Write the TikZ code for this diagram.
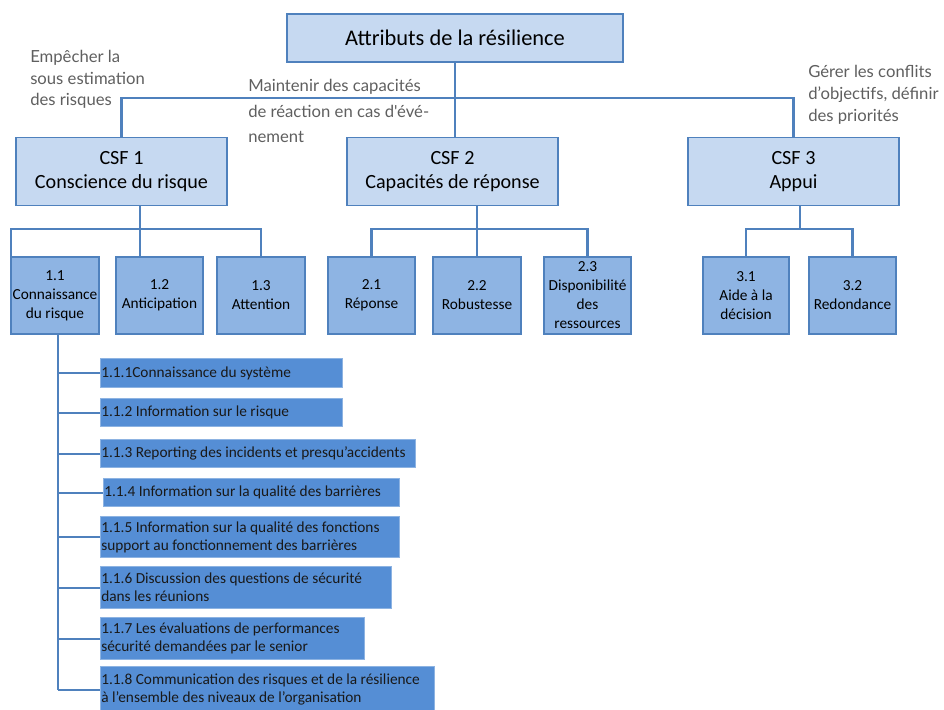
\documentclass[tikz,border=0pt]{standalone}
\usepackage{fontspec}
\setmainfont{Carlito}
\newfontfamily\annotfont{Lato}
\newdimen\px \px=0.75pt
\definecolor{lineblue}{HTML}{4F81BD}
\definecolor{paleblue}{HTML}{C6D9F1}
\definecolor{midblue}{HTML}{8EB4E3}
\definecolor{deepblue}{HTML}{558ED5}
\definecolor{subedge}{HTML}{8DB3E2}
\definecolor{notegray}{HTML}{5F5F5F}
\tikzset{
  conn/.style={draw=lineblue, line width=1.6pt},
  headbox/.style={draw=lineblue, line width=1.4pt, fill=paleblue, inner sep=0pt,
    align=center, font=\fontsize{16.8}{20}\selectfont},
  csfbox/.style={draw=lineblue, line width=1.4pt, fill=paleblue, inner sep=0pt,
    minimum width=211\px, minimum height=68\px, align=center,
    font=\fontsize{15.1}{18}\selectfont},
  attrbox/.style={draw=lineblue, line width=1.3pt, fill=midblue, inner sep=0pt,
    minimum width=87\px, minimum height=77\px, align=center,
    font=\fontsize{11.5}{14.25}\selectfont},
  subbox/.style={draw=subedge, line width=1pt, fill=deepblue, inner sep=0pt,
    anchor=north west},
  subtext/.style={anchor=west, inner sep=0pt, align=left, text=black!90,
    font=\fontsize{11.5}{13.5}\selectfont},
  note/.style={anchor=base west, inner sep=0pt, align=left, text=notegray},
}
\begin{document}
\begin{tikzpicture}[x=1\px, y=-1\px]
\useasboundingbox (0,0) rectangle (944,709);

% root
\node[headbox, minimum width=336\px, minimum height=48\px] (top) at (455,38) {Attributs de la résilience};

% critical success factors
\node[csfbox] (csf1) at (121.5,171.5) {CSF 1\\Conscience du risque};
\node[csfbox] (csf2) at (452.5,171.5) {CSF 2\\Capacités de réponse};
\node[csfbox] (csf3) at (793.5,171.5) {CSF 3\\Appui};

% annotations (anchored on the baseline of their last line)
\node[note, font=\annotfont\fontsize{12.5}{16.2}\selectfont] (n1) at (30,106)
  {Empêcher la\\sous estimation\\des risques};
\node[note, font=\annotfont\fontsize{12.5}{19.2}\selectfont] (n2) at (248,143)
  {Maintenir des capacités\\de réaction en cas d'évé-\\nement};
\node[note, font=\annotfont\fontsize{12.5}{16.5}\selectfont] (n3) at (808,122)
  {Gérer les conflits\\d’objectifs, définir\\des priorités};

% attributes
\node[attrbox, minimum width=88\px] (c11) at (55,295.5) {1.1\\Connaissance\\du risque};
\node[attrbox] (c12) at (159.5,295.5) {1.2\\Anticipation};
\node[attrbox, minimum width=88\px] (c13) at (261,295.5) {1.3\\Attention};
\node[attrbox] (c21) at (371.5,295.5) {2.1\\Réponse};
\node[attrbox, minimum width=88\px] (c22) at (477,295.5) {2.2\\Robustesse};
\node[attrbox] (c23) at (587.5,295.5) {2.3\\Disponibilité\\des\\ressources};
\node[attrbox, minimum width=86\px] (c31) at (746,295.5) {3.1\\Aide à la\\décision};
\node[attrbox] (c32) at (852.5,295.5) {3.2\\Redondance};

% sub-attributes of 1.1
\node[subbox, minimum width=242\px, minimum height=29\px] (s1) at (100,358) {};
\node[subbox, minimum width=242\px, minimum height=28\px] (s2) at (100,398) {};
\node[subbox, minimum width=315\px, minimum height=28\px] (s3) at (100,439) {};
\node[subbox, minimum width=296\px, minimum height=28\px] (s4) at (103,478) {};
\node[subbox, minimum width=299\px, minimum height=41\px] (s5) at (100,516) {};
\node[subbox, minimum width=291\px, minimum height=42\px] (s6) at (100,566) {};
\node[subbox, minimum width=264\px, minimum height=42\px] (s7) at (100,617) {};
\node[subbox, minimum width=334\px, minimum height=46\px] (s8) at (100,666) {};

\node[subtext] (t1) at ([xshift=1\px]s1.west) {1.1.1Connaissance du système};
\node[subtext] (t2) at ([xshift=1\px]s2.west) {1.1.2 Information sur le risque};
\node[subtext] (t3) at ([xshift=1\px]s3.west) {1.1.3 Reporting des incidents et presqu’accidents};
\node[subtext] (t4) at ([xshift=1\px]s4.west) {1.1.4 Information sur la qualité des barrières};
\node[subtext] (t5) at ([xshift=1\px]s5.west) {1.1.5 Information sur la qualité des fonctions\\support au fonctionnement des barrières};
\node[subtext] (t6) at ([xshift=1\px]s6.west) {1.1.6 Discussion des questions de sécurité\\dans les réunions};
\node[subtext] (t7) at ([xshift=1\px]s7.west) {1.1.7 Les évaluations de performances\\sécurité demandées par le senior};
\node[subtext] (t8) at ([xshift=1\px]s8.west) {1.1.8 Communication des risques et de la résilience\\à l’ensemble des niveaux de l’organisation};

% connectors: root to CSFs
\coordinate (j0) at (455,98);
\draw[conn] (top.south) -- (top.south |- csf2.north);
\draw[conn] (csf1.north) -- (csf1.north |- j0) -- (csf3.north |- j0) -- (csf3.north);

% connectors: CSF 1 to attributes
\coordinate (b1) at (140,229);
\draw[conn] (csf1.south -| b1) -- (b1 |- c12.north);
\draw[conn] ([xshift=1\px]c11.north west) -- ([xshift=1\px]c11.north west |- b1)
  -- (c13.north |- b1) -- (c13.north);

% connectors: CSF 2 to attributes
\coordinate (b2) at (477,229);
\draw[conn] (csf2.south -| b2) -- (c22.north);
\draw[conn] (c21.north) -- (c21.north |- b2) -- (c23.north |- b2) -- (c23.north);

% connectors: CSF 3 to attributes
\coordinate (b3) at (800,229);
\draw[conn] (csf3.south -| b3) -- (b3);
\draw[conn] (c31.north) -- (c31.north |- b3) -- (c32.north |- b3) -- (c32.north);

% connectors: 1.1 to sub-attributes
\coordinate (sp) at (58,689);
\draw[conn] (c11.south -| sp) -- (sp |- s8.west);
\foreach \s in {s1,s2,s3,s4,s5,s6,s7,s8}
  \draw[conn] (sp |- \s.west) -- (\s.west);
\end{tikzpicture}
\end{document}
